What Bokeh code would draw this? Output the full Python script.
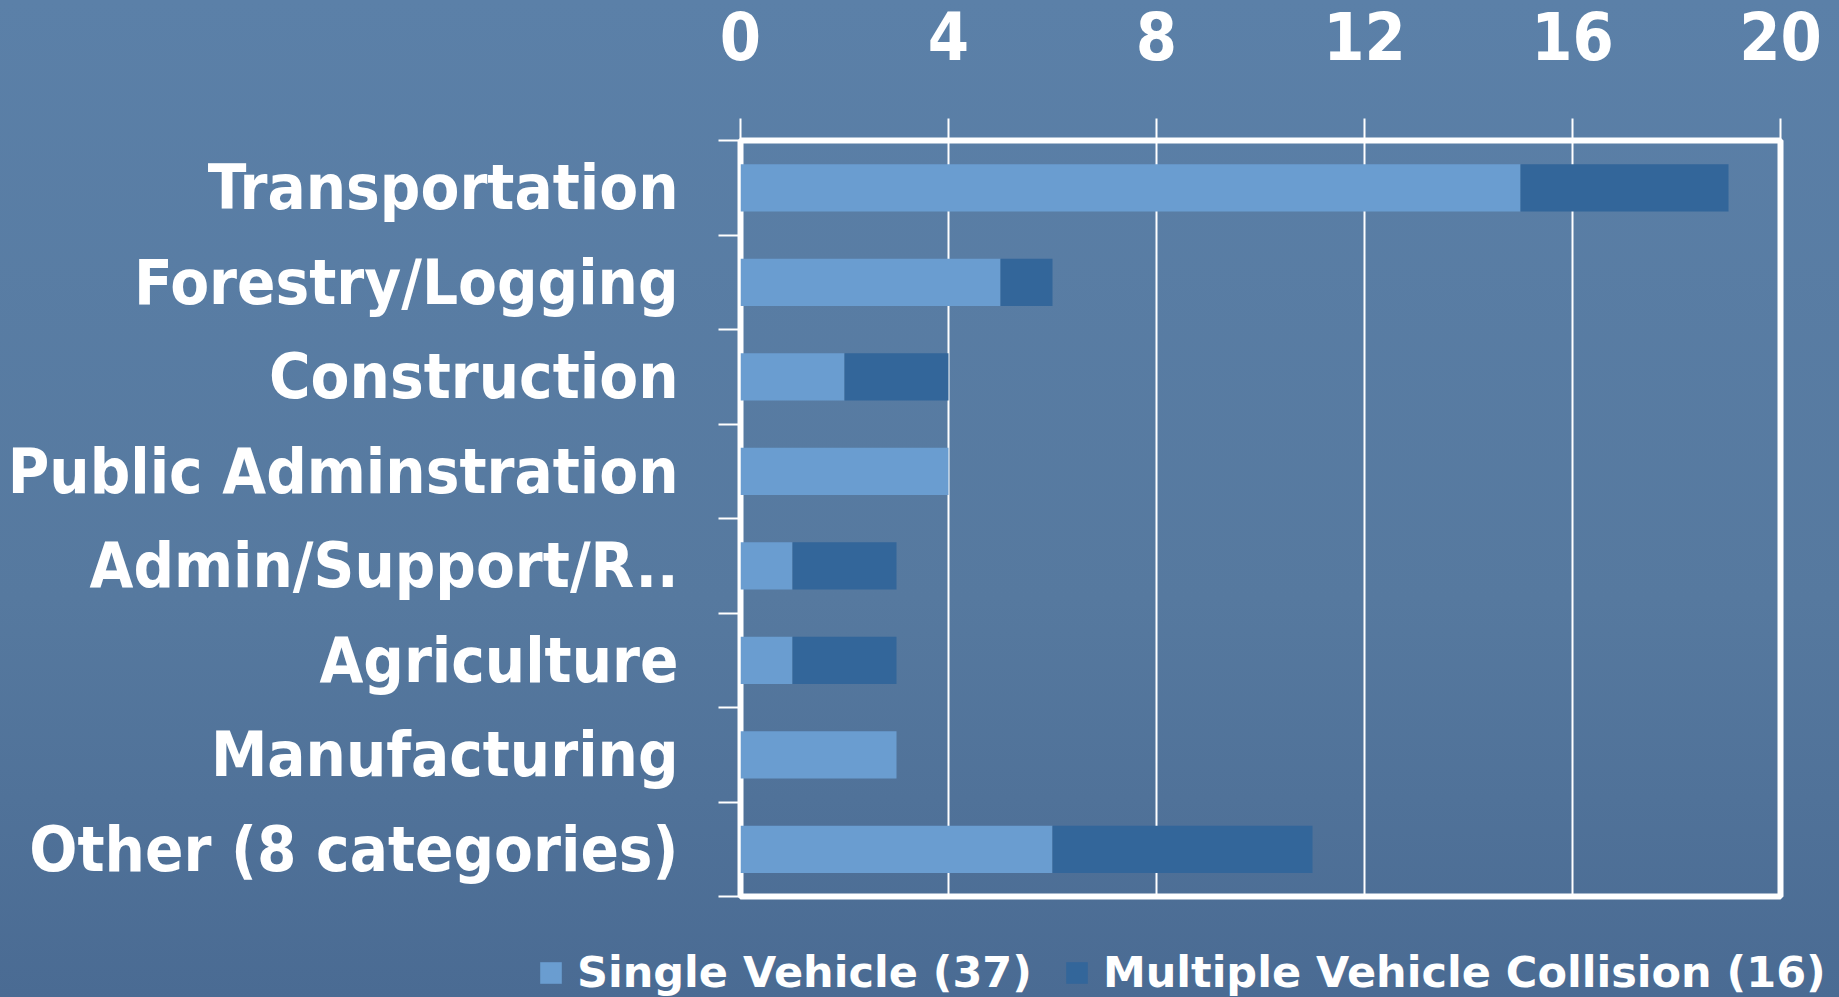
from bokeh.plotting import figure
from bokeh.layouts import column
from bokeh.models import (Range1d, FixedTicker, Legend, LegendItem, ColumnDataSource)
from bokeh.embed import file_html
from bokeh.resources import INLINE

# ---- data ----
categories = ["Transportation", "Forestry/Logging", "Construction", "Public Adminstration",
              "Admin/Support/R..", "Agriculture", "Manufacturing", "Other (8 categories)"]
single = [15, 5, 2, 4, 1, 1, 3, 6]
multiple = [4, 1, 2, 0, 2, 2, 0, 5]
x_ticks = [0, 4, 8, 12, 16, 20]
series_names = ["Single Vehicle (37)", "Multiple Vehicle Collision (16)"]
colors = ["#6a9dd0", "#33669a"]

n = len(categories)
ypos = [n - 0.5 - i for i in range(n)]  # category slot centres, first category on top
source = ColumnDataSource(dict(y=ypos, cat=categories, single=single, multiple=multiple))

W = 1839
p = figure(width=W, height=946, output_backend="svg", toolbar_location=None,
           x_range=Range1d(0, 20), y_range=Range1d(0, n),
           x_axis_location="above",
           min_border_left=740, min_border_right=59, min_border_top=140, min_border_bottom=50)
p.frame_align = False

p.background_fill_alpha = 0
p.border_fill_alpha = 0
p.outline_line_color = "white"
p.outline_line_width = 6

renderers = p.hbar_stack(["single", "multiple"], y="y", height=0.5, color=colors,
                         line_color=None, source=source)

# top x axis
xa = p.xaxis[0]
xa.ticker = FixedTicker(ticks=x_ticks)
xa.major_label_text_font = "DejaVu Sans Condensed"
xa.major_label_text_font_style = "bold"
xa.major_label_text_font_size = "66px"
xa.major_label_text_color = "white"
xa.major_label_standoff = 59
xa.major_tick_out = 22
xa.major_tick_in = 0
xa.major_tick_line_color = "white"
xa.major_tick_line_width = 2
xa.minor_tick_line_color = None
xa.axis_line_color = None

p.xgrid.ticker = FixedTicker(ticks=x_ticks)
p.xgrid.grid_line_color = "white"
p.xgrid.grid_line_width = 2
p.ygrid.grid_line_color = None

# left category axis: labels at slot centres, ticks at slot boundaries
ya = p.yaxis[0]
ya.ticker = FixedTicker(ticks=ypos, minor_ticks=list(range(n + 1)))
ya.major_label_overrides = {yv: c for yv, c in zip(ypos, categories)}
ya.major_tick_line_color = None
ya.major_tick_out = 0
ya.major_tick_in = 0
ya.minor_tick_line_color = "white"
ya.minor_tick_line_width = 2
ya.minor_tick_out = 22
ya.minor_tick_in = 0
ya.axis_line_color = None
ya.major_label_standoff = 40
ya.major_label_text_font = "DejaVu Sans Condensed"
ya.major_label_text_font_style = "bold"
ya.major_label_text_font_size = "63px"
ya.major_label_text_color = "white"

# ---- legend strip below the chart ----
leg = figure(width=W, height=51, output_backend="svg", toolbar_location=None,
             x_range=Range1d(0, 20), y_range=Range1d(0, n),
             x_axis_location=None, y_axis_location=None,
             min_border_left=0, min_border_right=0, min_border_top=0, min_border_bottom=0)
leg.frame_align = False
leg.background_fill_alpha = 0
leg.border_fill_alpha = 0
leg.outline_line_color = None
leg.grid.grid_line_color = None
swatches = leg.hbar_stack(["single", "multiple"], y="y", height=0.5, color=colors,
                          line_color=None, source=source)
for r in swatches:
    r.visible = False  # only used as legend swatches

legend = Legend(items=[LegendItem(label=name, renderers=[r]) for name, r in zip(series_names, swatches)],
                orientation="horizontal", location=(537, 0),
                label_text_font="DejaVu Sans", label_text_font_style="bold",
                label_text_font_size="43px", label_text_color="white",
                glyph_width=27, glyph_height=27, label_standoff=13, spacing=31,
                padding=0, margin=0, border_line_color=None, background_fill_alpha=0,
                inactive_fill_alpha=0, click_policy="none")
leg.add_layout(legend, "center")

layout = column(p, leg, spacing=0)

html = file_html(layout, INLINE, title="Vehicle incidents by industry")
html = html.replace("</head>",
                    "<style>html,body{background:linear-gradient(to bottom,#5b80a8 0%,#56799f 60%,#4a6b93 100%);"
                    "min-height:100%;}</style></head>", 1)
open("out.html", "w").write(html)
